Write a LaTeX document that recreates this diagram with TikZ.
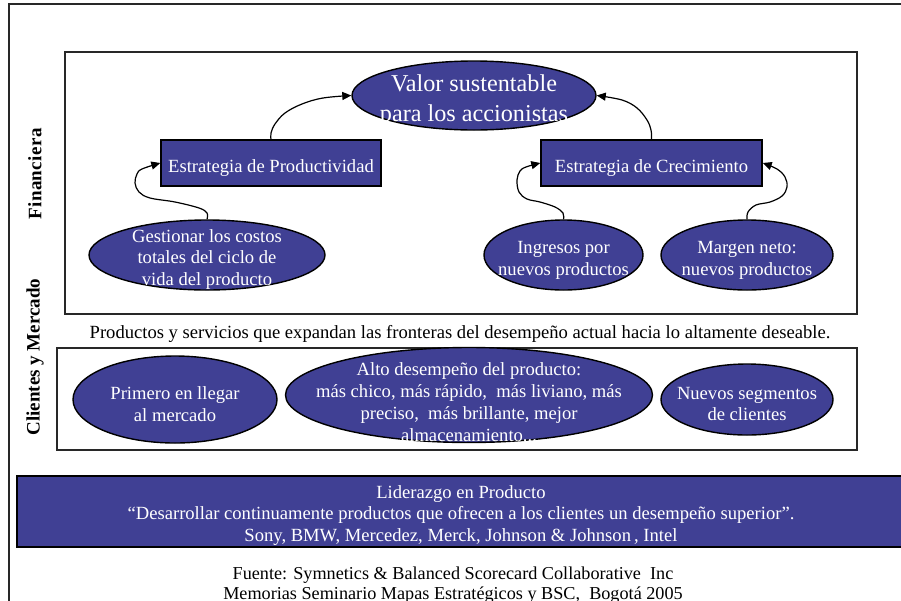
\documentclass[tikz,border=0pt]{standalone}
\usepackage{fontspec}
\setmainfont{Liberation Serif}
\usetikzlibrary{shapes.geometric,arrows.meta}
\definecolor{bscblue}{RGB}{64,64,148}
\definecolor{framegray}{RGB}{40,40,40}

\begin{document}
\begin{tikzpicture}[x=1pt,y=-1pt,
  oval/.style={ellipse, draw=black, line width=1.4pt, fill=bscblue, inner sep=0pt},
  stratbox/.style={rectangle, draw=black, line width=1.4pt, fill=bscblue, inner sep=0pt},
  wtext/.style={text=white, align=center, inner sep=0pt, font=\fontsize{18.6}{21.8}\selectfont},
  btext/.style={text=black, align=center, inner sep=0pt, font=\fontsize{18.6}{21.8}\selectfont},
  panel/.style={draw=framegray, line width=1.3pt},
  link/.style={draw=black, line width=1.2pt, -{Triangle[length=9pt,width=8pt]}},
  side/.style={font=\bfseries\fontsize{19}{20}\selectfont, rotate=90, inner sep=0pt},
]
\useasboundingbox (0,0) rectangle (901,600);
\clip (0,0) rectangle (901,600);

% outer frame and section panels
\draw[panel] (9,4) rectangle (930,630);
\draw[panel] (65,52) rectangle (857,314);
\draw[panel] (57,348) rectangle (857,450);
\draw[draw=black, line width=1.3pt, fill=bscblue] (17,476) rectangle (930,547);

% perspective labels
\node[side] (finL) at (35,174) {F\kern0.4pt i\kern0.4pt n\kern0.4pt a\kern0.4pt n\kern0.4pt c\kern0.4pt i\kern0.4pt e\kern0.4pt r\kern0.4pt a};
\node[side] (cliL) at (35,357) {Clientes y Mercado};

% financial perspective
\node[oval, minimum width=244pt, minimum height=69pt] (valor) at (474,95.5) {};
\node[wtext, font=\fontsize{24.2}{30}\selectfont] (valorT) at (474,101) {Valor sustentable\\para los accionistas};

\node[stratbox, minimum width=220pt, minimum height=46pt] (prod) at (271,163) {};
\node[wtext] (prodT) at (271,168) {Estrategia de Productividad};
\node[stratbox, minimum width=221pt, minimum height=46pt] (crec) at (651.5,163) {};
\node[wtext] (crecT) at (651.5,168) {Estrategia de Crecimiento};

\node[oval, minimum width=236pt, minimum height=70pt] (gest) at (207,255) {};
\node[wtext] (gestT) at (207,259.5) {Gestionar los costos\\totales del ciclo de\\vida del producto};

\node[oval, minimum width=159pt, minimum height=70pt] (ingr) at (563.5,255) {};
\node[wtext] (ingrT) at (563.5,260) {Ingresos por\\nuevos productos};

\node[oval, minimum width=172pt, minimum height=70pt] (marg) at (747,255) {};
\node[wtext] (margT) at (747,260) {Margen neto:\\nuevos productos};

% connectors
\draw[link] plot[smooth, tension=0.6] coordinates {(gest.north) (207,213) (199,208) (175,202) (150,198) (139,192) (135,183) (137,174) (142,169) (prod.west)};
\draw[link] plot[smooth, tension=0.6] coordinates {(prod.north) (271,133) (275,124) (285,113) (302,104) (323,98) (valor.west)};
\draw[link] plot[smooth, tension=0.6] coordinates {(crec.north) (651,130) (647,120) (637,108) (622,100) (valor.east)};
\draw[link] plot[smooth, tension=0.6] coordinates {(ingr.north) (563,213) (555,207) (540,202) (527,199) (519,192) (517,180) (520,171) (526,167) (crec.west)};
\draw[link] plot[smooth, tension=0.6] coordinates {(marg.north) (748,212) (756,205) (770,202) (782,196) (787,187) (785,177) (777,169) (crec.east)};

% customer perspective
\node[btext] (propuesta) at (460,334) {Productos y servicios que expandan las fronteras del desempeño actual hacia lo altamente deseable.};

\node[oval, minimum width=204pt, minimum height=87pt] (prim) at (175,399.5) {};
\node[wtext] (primT) at (175,404) {Primero en llegar\\al mercado};

\node[oval, minimum width=367pt, minimum height=95pt] (alto) at (469,395) {};
\node[wtext] (altoT) at (469,402) {Alto desempeño del producto:\\más chico, más rápido,\ \ más liviano, más\\preciso,\ \ más brillante, mejor\\almacenamiento...};

\node[oval, minimum width=172pt, minimum height=71pt] (nuev) at (747,399.5) {};
\node[wtext] (nuevT) at (747,404) {Nuevos segmentos\\de clientes};

% value proposition banner
\node[wtext] (lidT) at (461,515.5) {Liderazgo en Producto\\“Desarrollar continuamente productos que ofrecen a los clientes un desempeño superior”.\\Sony, BMW, Mercedez, Merck, Johnson \& Johnson\,, Intel};

% source
\node[btext, font=\fontsize{18.2}{20.5}\selectfont] (fuente) at (453,585) {Fuente: Symnetics \& Balanced Scorecard Collaborative\ \ Inc\\Memorias Seminario Mapas Estratégicos y BSC,\ \ Bogotá 2005};
\end{tikzpicture}
\end{document}
